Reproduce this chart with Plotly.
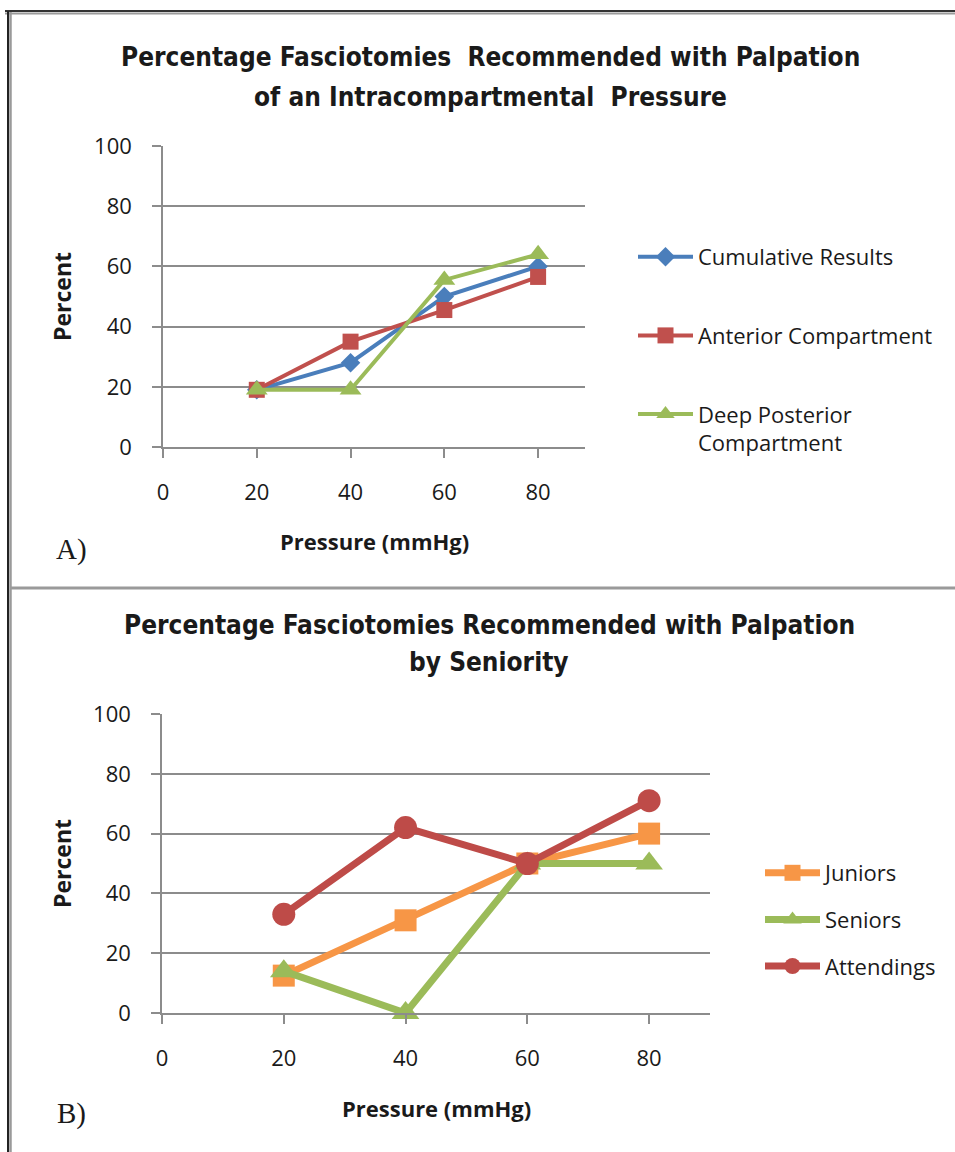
import plotly.graph_objects as go

W, H = 955, 1152

# ---- data ----
pressure = [20, 40, 60, 80]
x_ticks = [0, 20, 40, 60, 80]
y_ticks = [0, 20, 40, 60, 80, 100]

cumulative = [19, 28, 50, 60]
anterior = [19, 35, 45.5, 56.5]
deep_posterior = [19, 19, 55.5, 64]

juniors = [12.5, 31, 50, 60]
seniors = [14, 0, 50, 50]
attendings = [33, 62, 50, 71]

title_a = ["Percentage Fasciotomies  Recommended with Palpation", "of an Intracompartmental  Pressure"]
title_b = ["Percentage Fasciotomies Recommended with Palpation", "by Seniority"]

FONT = "Open Sans"
TFONT = "DejaVu Sans Condensed, Open Sans"
GRID = "#8c8c8c"
TXT = "#1a1a1a"

def px(x):
    return x / W

def py(y):
    return 1 - y / H

fig = go.Figure()

def add(x, y, name, color, width, symbol, size, xa, ya, leg, grp):
    fig.add_trace(go.Scatter(x=x, y=y, name=name, mode="lines+markers",
                             line=dict(color=color, width=width),
                             marker=dict(symbol=symbol, size=size, color=color),
                             cliponaxis=False,
                             xaxis=xa, yaxis=ya, legend=leg, legendgroup=grp))

# Panel A traces
add(pressure, cumulative, "Cumulative Results", "#4a7ebb", 4, "diamond", 15, "x", "y", "legend", "a1")
add(pressure, anterior, "Anterior Compartment", "#c0504d", 4, "square", 16, "x", "y", "legend", "a2")
add(pressure, deep_posterior, "Deep Posterior<br>Compartment", "#9bbb59", 4, "triangle-up", 19, "x", "y", "legend", "a3")

# Panel B traces
add(pressure, juniors, "Juniors", "#f79646", 7, "square", 22, "x2", "y2", "legend2", "b1")
add(pressure, seniors, "Seniors", "#9bbb59", 7, "triangle-up", 24, "x2", "y2", "legend2", "b2")
add(pressure, attendings, "Attendings", "#be4b48", 7, "circle", 23, "x2", "y2", "legend2", "b3")

def xax(domain, anchor):
    return dict(domain=domain, anchor=anchor, range=[0, 90], tickmode="array", tickvals=x_ticks,
                showgrid=False, zeroline=False, showline=True, linecolor=GRID, linewidth=1.5,
                ticks="outside", ticklen=9, tickcolor=GRID, tickwidth=1.5, automargin=False,
                ticklabelstandoff=16, tickfont=dict(family=FONT, size=22, color=TXT))

def yax(domain, anchor):
    return dict(domain=domain, anchor=anchor, range=[0, 100], tickmode="array", tickvals=y_ticks,
                showgrid=True, gridcolor=GRID, gridwidth=1.5, zeroline=False,
                showline=True, linecolor=GRID, linewidth=1.5, automargin=False,
                ticks="outside", ticklen=9, tickcolor=GRID, tickwidth=1.5,
                ticklabelstandoff=16, tickfont=dict(family=FONT, size=22, color=TXT))

fig.update_layout(
    width=W, height=H, margin=dict(l=0, r=0, t=0, b=0, pad=0, autoexpand=False),
    paper_bgcolor="white", plot_bgcolor="white",
    xaxis=xax([px(163), px(585)], "y"),
    yaxis=yax([py(447), py(146)], "x"),
    xaxis2=xax([px(162), px(710)], "y2"),
    yaxis2=yax([py(1013), py(714)], "x2"),
    legend=dict(x=px(633), y=py(236), xanchor="left", yanchor="top", traceorder="grouped",
                tracegroupgap=47, itemwidth=55, valign="top", bgcolor="rgba(0,0,0,0)",
                font=dict(family=FONT, size=22, color=TXT)),
    legend2=dict(x=px(760), y=py(852), xanchor="left", yanchor="top", traceorder="grouped",
                 tracegroupgap=15, itemwidth=55, valign="top", bgcolor="rgba(0,0,0,0)",
                 font=dict(family=FONT, size=22, color=TXT)),
    showlegend=True,
)

annotations = [
    dict(text="<b>" + title_a[0] + "</b>", x=px(490), y=py(57), font=dict(family=TFONT, size=26, color=TXT)),
    dict(text="<b>" + title_a[1] + "</b>", x=px(490), y=py(97), font=dict(family=TFONT, size=26, color=TXT)),
    dict(text="<b>" + title_b[0] + "</b>", x=px(489), y=py(625), font=dict(family=TFONT, size=26, color=TXT)),
    dict(text="<b>" + title_b[1] + "</b>", x=px(489), y=py(662), font=dict(family=TFONT, size=26, color=TXT)),
    dict(text="<b>Percent</b>", x=px(62), y=py(297), textangle=-90, font=dict(family=FONT, size=23, color=TXT)),
    dict(text="<b>Percent</b>", x=px(62), y=py(864), textangle=-90, font=dict(family=FONT, size=23, color=TXT)),
    dict(text="<b>Pressure (mmHg)</b>", x=px(374), y=py(541), font=dict(family=FONT, size=22, color=TXT)),
    dict(text="<b>Pressure (mmHg)</b>", x=px(436), y=py(1108), font=dict(family=FONT, size=22, color=TXT)),
    dict(text="A)", x=px(71), y=py(549), font=dict(family="Liberation Serif", size=29, color=TXT)),
    dict(text="B)", x=px(71), y=py(1113), font=dict(family="Liberation Serif", size=29, color=TXT)),
]
for a in annotations:
    a.update(xref="paper", yref="paper", showarrow=False, xanchor="center", yanchor="middle")
fig.update_layout(annotations=annotations)

shapes = [
    # outer frame
    dict(type="line", x0=px(5), x1=1, y0=py(11), y1=py(11), line=dict(color="#333333", width=2)),
    dict(type="line", x0=px(5), x1=1, y0=py(13.5), y1=py(13.5), line=dict(color="#9a9a9a", width=2)),
    dict(type="line", x0=px(8), x1=px(8), y0=py(11), y1=0, line=dict(color="#222222", width=2)),
    dict(type="line", x0=px(10.5), x1=px(10.5), y0=py(12), y1=0, line=dict(color="#9a9a9a", width=2.5)),
    # separator between panels
    dict(type="line", x0=px(10), x1=1, y0=py(588), y1=py(588), line=dict(color="#9a9a9a", width=3)),
]
for s in shapes:
    s.update(xref="paper", yref="paper", layer="above")
fig.update_layout(shapes=shapes)

post = ("document.documentElement.style.margin='0';document.body.style.margin='0';"
        "document.body.style.padding='0';document.body.style.overflow='hidden';")

fig.write_html("out.html", config={"displayModeBar": False}, post_script=post)
